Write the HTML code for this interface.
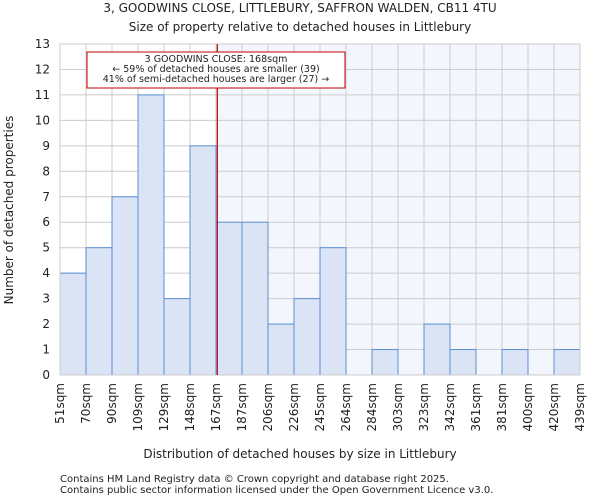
<!DOCTYPE html>
<html><head><meta charset="utf-8"><style>
body{margin:0;background:#fff;font-family:"DejaVu Sans","Liberation Sans",sans-serif;}
svg text{font-family:"DejaVu Sans","Liberation Sans",sans-serif;fill:#222;}
</style></head><body>
<svg id="c" width="600" height="500" xmlns="http://www.w3.org/2000/svg">
<text x="300" y="12" font-size="12" text-anchor="middle">3, GOODWINS CLOSE, LITTLEBURY, SAFFRON WALDEN, CB11 4TU</text>
<text x="300" y="31" font-size="12" text-anchor="middle">Size of property relative to detached houses in Littlebury</text>
<g id="plot"></g>
<text x="300" y="458" font-size="12" text-anchor="middle">Distribution of detached houses by size in Littlebury</text>
<text transform="translate(13,210) rotate(-90)" font-size="12" text-anchor="middle">Number of detached properties</text>
<text x="60" y="482" font-size="10">Contains HM Land Registry data © Crown copyright and database right 2025.</text>
<text x="60" y="493" font-size="10">Contains public sector information licensed under the Open Government Licence v3.0.</text>
</svg>
<script>
const edges=["51sqm","70sqm","90sqm","109sqm","129sqm","148sqm","167sqm","187sqm","206sqm","226sqm","245sqm","264sqm","284sqm","303sqm","323sqm","342sqm","361sqm","381sqm","400sqm","420sqm","439sqm"];
const edgeValues=[51,70,90,109,129,148,167,187,206,226,245,264,284,303,323,342,361,381,400,420,439];
const counts=[4,5,7,11,3,9,6,6,2,3,5,0,1,0,2,1,0,1,0,1];
const yTicks=[0,1,2,3,4,5,6,7,8,9,10,11,12,13];
const propertySize=168;
const L=60,R=580,T=44,B=375,YMAX=13;
const ns="http://www.w3.org/2000/svg";
const g=document.getElementById('plot');
const bw=(R-L)/counts.length;
const xi=i=>L+i*bw;
const y=v=>B-(v/YMAX)*(B-T);
function xv(v){for(let i=0;i<edgeValues.length-1;i++){if(v<=edgeValues[i+1]){return xi(i)+(v-edgeValues[i])/(edgeValues[i+1]-edgeValues[i])*bw;}}return R;}
function mk(t,a){const e=document.createElementNS(ns,t);for(const k in a)e.setAttribute(k,a[k]);g.appendChild(e);return e;}
const px=xv(propertySize);
let e=mk('rect',{x:px,y:T,width:R-px,height:B-T,fill:'#f3f6fc'});


yTicks.forEach(t=>{
 let l=mk('line',{x1:L,x2:R,y1:y(t),y2:y(t),stroke:'#ccc','stroke-width':1});
 
 
 let tx=mk('text',{x:L-10,y:y(t)+4,'font-size':12,'text-anchor':'end'});tx.textContent=t;
 
 
});
edges.forEach((lab,i)=>{
 let l=mk('line',{x1:xi(i),x2:xi(i),y1:T,y2:B,stroke:'#ccc','stroke-width':1});
 
 
 let tx=mk('text',{transform:`translate(${xi(i)+4},${B+8}) rotate(-90)`,'font-size':12,'text-anchor':'end'});tx.textContent=lab;
 
 
});
counts.forEach((c,i)=>{
 if(c<=0)return;
 let r=mk('rect',{x:xi(i),y:y(c),width:bw,height:B-y(c),fill:'#dae4f4',stroke:'#5b8fd6','stroke-width':1});
 
 
});
let ax=mk('rect',{x:L,y:T,width:R-L,height:B-T,fill:'none',stroke:'#ccc'});


let ml=mk('line',{x1:px,x2:px,y1:T,y2:B,stroke:'#c00000','stroke-width':1.2});


let bx=mk('rect',{x:87,y:52,width:258,height:36,fill:'#fff',stroke:'#c00000','stroke-width':1});


["3 GOODWINS CLOSE: 168sqm","← 59% of detached houses are smaller (39)","41% of semi-detached houses are larger (27) →"].forEach((s,k)=>{
 let t=mk('text',{x:216,y:62+k*10,'font-size':9.5,'text-anchor':'middle'});t.textContent=s;
 
 
});
</script>
</body></html>
